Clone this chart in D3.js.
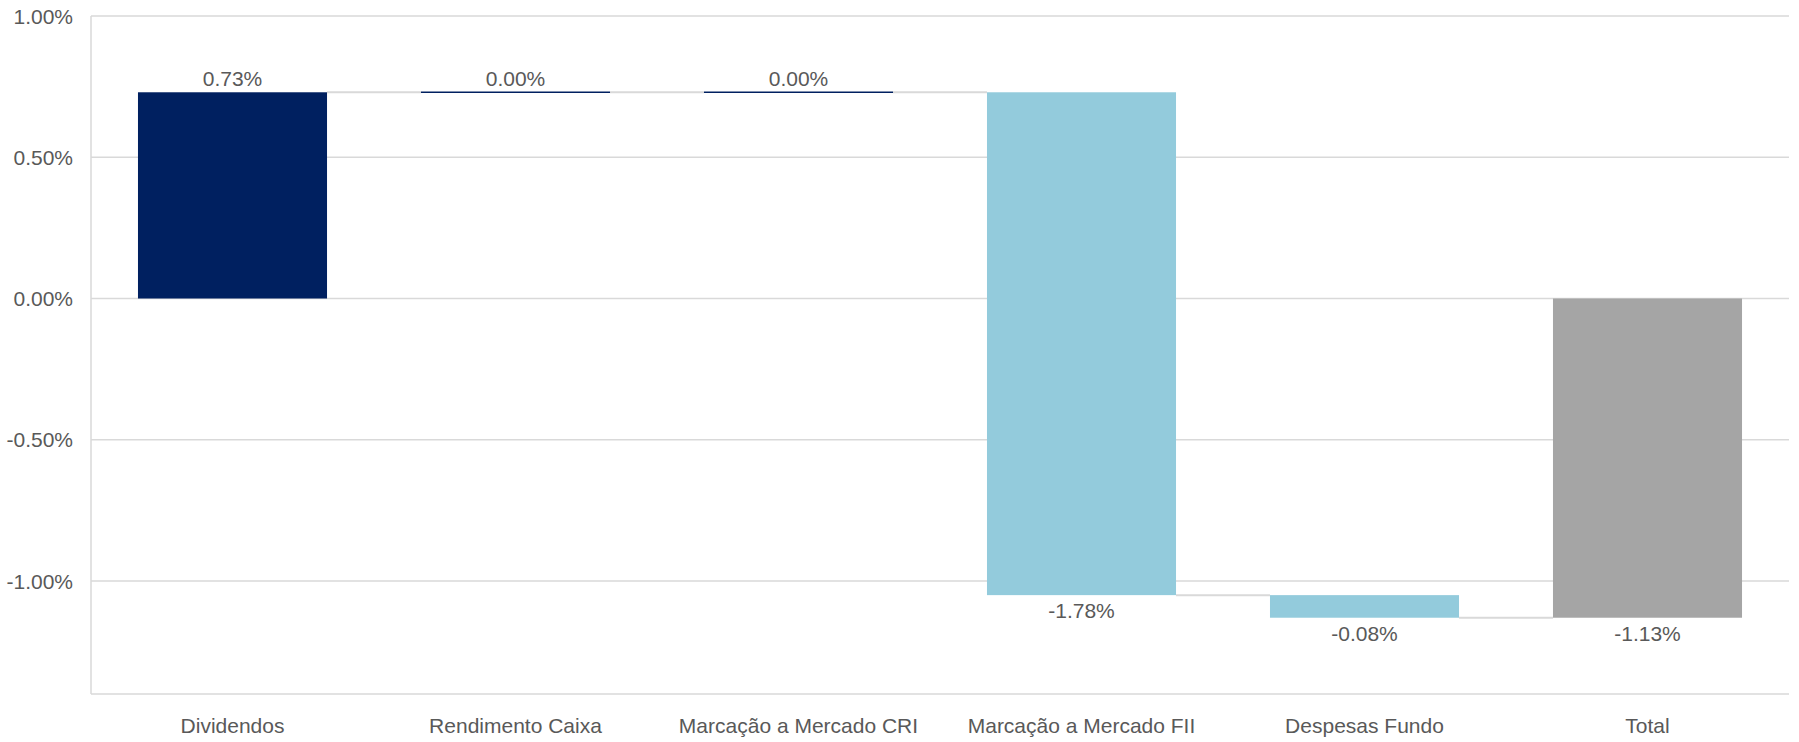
<!DOCTYPE html>
<html>
<head>
<meta charset="utf-8">
<script src="https://cdn.jsdelivr.net/npm/d3@7"></script>
<style>
  body { margin: 0; background: #fff; }
  svg text { font-family: "Liberation Sans", Arial, sans-serif; fill: #595959; }
</style>
</head>
<body>
<svg id="chart" width="1799" height="742"></svg>
<script>
// data (percent)
var categories = ["Dividendos", "Rendimento Caixa", "Marcação a Mercado CRI", "Marcação a Mercado FII", "Despesas Fundo", "Total"];
var deltas = [0.73, 0.00, 0.00, -1.78, -0.08];
var totalValue = -1.13;
var yTicks = [1.0, 0.5, 0.0, -0.5, -1.0];

var posColor = "#002060",
    negColor = "#93CBDC",
    totColor = "#A5A5A5",
    gridColor = "#D9D9D9";

// excel style percent, plain hyphen for negatives
function pct(v) {
  return d3.format(".2f")(v).replace("\u2212", "-") + "%";
}

var svg = d3.select("#chart"),
    margin = {top: 16, right: 10, bottom: 48, left: 91},
    width = 1799 - margin.left - margin.right,
    height = 742 - margin.top - margin.bottom,
    g = svg.append("g").attr("transform", "translate(" + margin.left + "," + margin.top + ")");

var x = d3.scaleBand()
  .domain(categories)
  .range([0, width])
  .paddingInner(0.332)
  .paddingOuter(0.166);

var y = d3.scaleLinear()
  .domain([-1.4, 1.0])
  .range([height, 0]);

// build waterfall steps
var steps = [];
var run = 0;
deltas.forEach(function(d, i) {
  steps.push({name: categories[i], start: run, end: run + d, value: d, type: d > 0 ? "pos" : (d < 0 ? "neg" : "zero")});
  run += d;
});
steps.push({name: categories[5], start: 0, end: totalValue, value: totalValue, type: "total"});

// gridlines
g.append("g")
  .selectAll("line")
  .data(yTicks)
  .enter().append("line")
  .attr("x1", 0).attr("x2", width)
  .attr("y1", function(d) { return y(d); })
  .attr("y2", function(d) { return y(d); })
  .attr("stroke", gridColor)
  .attr("stroke-width", 1.5);

// axis lines
g.append("line").attr("x1", 0).attr("x2", 0).attr("y1", 0).attr("y2", height)
  .attr("stroke", gridColor).attr("stroke-width", 1.5);
g.append("line").attr("x1", 0).attr("x2", width).attr("y1", height).attr("y2", height)
  .attr("stroke", gridColor).attr("stroke-width", 1.5);

// y tick labels
g.append("g")
  .selectAll("text")
  .data(yTicks)
  .enter().append("text")
  .attr("x", -18)
  .attr("y", function(d) { return y(d); })
  .attr("dy", "0.36em")
  .attr("text-anchor", "end")
  .style("font-size", "21px")
  .text(function(d) { return pct(d); });

// connectors
g.append("g")
  .selectAll("line")
  .data(steps.slice(0, steps.length - 1))
  .enter().append("line")
  .attr("x1", function(d) { return x(d.name) + x.bandwidth(); })
  .attr("x2", function(d, i) { return x(steps[i + 1].name); })
  .attr("y1", function(d) { return y(d.end); })
  .attr("y2", function(d) { return y(d.end); })
  .attr("stroke", gridColor)
  .attr("stroke-width", 2);

// bars
g.append("g")
  .selectAll("rect")
  .data(steps.filter(function(d) { return d.type != "zero"; }))
  .enter().append("rect")
  .attr("x", function(d) { return x(d.name); })
  .attr("width", x.bandwidth())
  .attr("y", function(d) { return y(Math.max(d.start, d.end)); })
  .attr("height", function(d) { return Math.abs(y(d.start) - y(d.end)); })
  .attr("fill", function(d) {
    if (d.type == "pos") return posColor;
    if (d.type == "neg") return negColor;
    return totColor;
  });

// zero-valued steps show as a thin line
g.append("g")
  .selectAll("line")
  .data(steps.filter(function(d) { return d.type == "zero"; }))
  .enter().append("line")
  .attr("x1", function(d) { return x(d.name); })
  .attr("x2", function(d) { return x(d.name) + x.bandwidth(); })
  .attr("y1", function(d) { return y(d.end); })
  .attr("y2", function(d) { return y(d.end); })
  .attr("stroke", posColor)
  .attr("stroke-width", 1.5);

// value labels
g.append("g")
  .selectAll("text")
  .data(steps)
  .enter().append("text")
  .attr("x", function(d) { return x(d.name) + x.bandwidth() / 2; })
  .attr("y", function(d) {
    if (d.value >= 0) return y(Math.max(d.start, d.end)) - 6;
    return y(Math.min(d.start, d.end)) + 23;
  })
  .attr("text-anchor", "middle")
  .style("font-size", "21px")
  .text(function(d) { return pct(d.value); });

// category labels
g.append("g")
  .selectAll("text")
  .data(categories)
  .enter().append("text")
  .attr("x", function(d) { return x(d) + x.bandwidth() / 2; })
  .attr("y", height + 39)
  .attr("text-anchor", "middle")
  .style("font-size", "21px")
  .text(function(d) { return d; });
</script>
</body>
</html>
